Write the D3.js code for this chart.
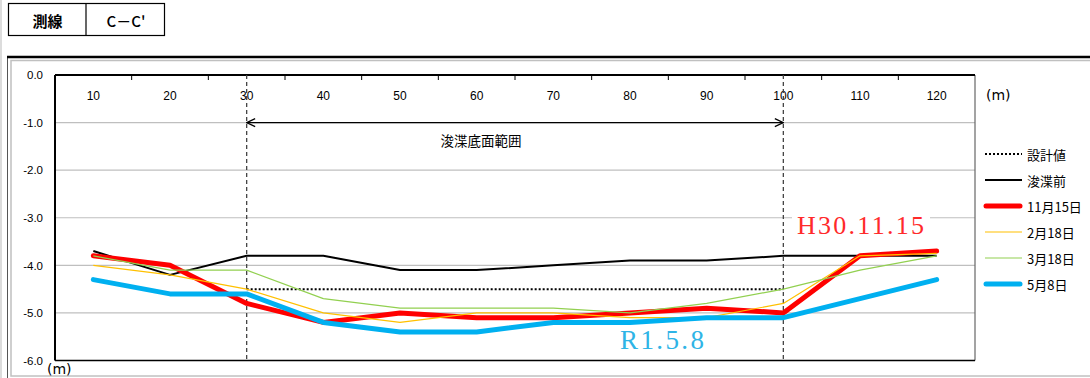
<!DOCTYPE html>
<html><head><meta charset="utf-8">
<script src="https://cdn.jsdelivr.net/npm/d3@7"></script>
<style>
body{margin:0;background:#fff;}
svg{display:block;font-family:"DejaVu Sans","Noto Sans CJK JP",sans-serif;}
</style></head>
<body>
<svg id="c" width="1090" height="378"></svg>
<script>
const categories = [10,20,30,40,50,60,70,80,90,100,110,120];
const yTicks = [0,-1,-2,-3,-4,-5,-6];
const designRange = [30,100];
const designValue = -4.5;
const before   = [-3.7,-4.2,-3.8,-3.8,-4.1,-4.1,-4.0,-3.9,-3.9,-3.8,-3.8,-3.8];
const nov15    = [-3.8,-4.0,-4.8,-5.2,-5.0,-5.1,-5.1,-5.0,-4.9,-5.0,-3.8,-3.7];
const feb18    = [-4.0,-4.2,-4.5,-5.0,-5.2,-5.0,-5.0,-5.1,-5.1,-4.8,-3.8,-3.75];
const mar18    = [-3.8,-4.1,-4.1,-4.7,-4.9,-4.9,-4.9,-5.0,-4.8,-4.5,-4.1,-3.8];
const may8     = [-4.3,-4.6,-4.6,-5.2,-5.4,-5.4,-5.2,-5.2,-5.1,-5.1,-4.7,-4.3];
const seriesNames = ["設計値","浚渫前","11月15日","2月18日","3月18日","5月8日"];

const svg = d3.select("#c");
const L=55, R=975, T=75, B=360.5;
const band = d3.scaleBand().domain(categories).range([L,R]).paddingInner(0).paddingOuter(0);
const x = d3.scalePoint().domain(categories).range([L,R]).padding(0.5);
const y = d3.scaleLinear().domain([-6,0]).range([B,T]);

// page frame
svg.append("line").attr("x1",1).attr("x2",1).attr("y1",0).attr("y2",378).attr("stroke","#d0d0d0").attr("stroke-width",1.5);
svg.append("rect").attr("x",11).attr("y",60.5).attr("width",1100).attr("height",315.5).attr("fill","none").attr("stroke","#c0c0c0").attr("stroke-width",1.5);
svg.append("line").attr("x1",7.5).attr("x2",7.5).attr("y1",57).attr("y2",378).attr("stroke","#555").attr("stroke-width",1);
svg.append("line").attr("x1",7).attr("x2",1090).attr("y1",57).attr("y2",57).attr("stroke","#000").attr("stroke-width",2.5);

// title table
const tb = svg.append("g");
tb.append("rect").attr("x",8.5).attr("y",3.5).attr("width",156).attr("height",32).attr("fill","none").attr("stroke","#000").attr("stroke-width",1.2);
tb.append("line").attr("x1",86).attr("x2",86).attr("y1",3.5).attr("y2",35.5).attr("stroke","#000").attr("stroke-width",1.2);
tb.append("text").attr("x",47.5).attr("y",20).attr("text-anchor","middle").attr("dominant-baseline","central")
  .style("font-family","'Noto Sans CJK JP'").style("font-size","15px").style("font-weight","700").text("測線");
tb.append("text").attr("x",126).attr("y",20).attr("text-anchor","middle").attr("dominant-baseline","central")
  .style("font-family","'Noto Sans CJK JP'").style("font-size","15px").style("font-weight","500").text("C－C'");

// gridlines
svg.append("g").selectAll("line").data(yTicks.filter(d=>d<0 && d>-6)).join("line")
  .attr("x1",L).attr("x2",R).attr("y1",d=>y(d)).attr("y2",d=>y(d)).attr("stroke","#bfbfbf").attr("stroke-width",1.2);

// y axis
const ya = svg.append("g").attr("transform",`translate(${L},0)`)
  .call(d3.axisLeft(y).tickValues(yTicks).tickSize(0).tickPadding(12).tickFormat(d=>d.toFixed(1)));
ya.select(".domain").remove();
ya.selectAll("text").style("font-size","11.5px").attr("fill","#000");

// x axis (top, labels inside)
const xa = svg.append("g").attr("transform",`translate(0,${T})`)
  .call(d3.axisBottom(band).tickSize(0).tickPadding(16));
xa.select(".domain").remove();
xa.selectAll("text").style("font-size","12px").attr("fill","#000");
svg.append("g").selectAll("line").data(categories.slice(1)).join("line")
  .attr("x1",d=>band(d)).attr("x2",d=>band(d)).attr("y1",T).attr("y2",T+5).attr("stroke","#000").attr("stroke-width",1);

// plot border
svg.append("line").attr("x1",R).attr("x2",R).attr("y1",T).attr("y2",B).attr("stroke","#666").attr("stroke-width",1.2);
svg.append("line").attr("x1",L).attr("x2",R).attr("y1",B).attr("y2",B).attr("stroke","#000").attr("stroke-width",1.5);
svg.append("line").attr("x1",L).attr("x2",L).attr("y1",T).attr("y2",B).attr("stroke","#000").attr("stroke-width",2);
svg.append("line").attr("x1",L).attr("x2",R).attr("y1",T).attr("y2",T).attr("stroke","#000").attr("stroke-width",2);

// unit labels
svg.append("text").attr("x",47).attr("y",374).style("font-size","14px").text("(m)");
svg.append("text").attr("x",986).attr("y",100).style("font-size","14px").text("(m)");

// vertical dashed lines
svg.append("g").selectAll("line").data(designRange).join("line")
  .attr("x1",d=>x(d)).attr("x2",d=>x(d)).attr("y1",T).attr("y2",B+1)
  .attr("stroke","#444").attr("stroke-width",1.3).attr("stroke-dasharray","4,3");

// dimension arrow
const defs = svg.append("defs");
defs.append("marker").attr("id","arr").attr("viewBox","0 0 10 10").attr("refX",9.5).attr("refY",5)
  .attr("markerWidth",10).attr("markerHeight",10).attr("markerUnits","userSpaceOnUse").attr("orient","auto-start-reverse")
  .append("path").attr("d","M1,1 L9.5,5 L1,9").attr("fill","none").attr("stroke","#000").attr("stroke-width",1.2);
svg.append("line").attr("x1",x(designRange[0])).attr("x2",x(designRange[1])).attr("y1",y(-1)).attr("y2",y(-1))
  .attr("stroke","#000").attr("stroke-width",1.3).attr("marker-start","url(#arr)").attr("marker-end","url(#arr)");
svg.append("text").attr("x",481).attr("y",140).attr("text-anchor","middle").attr("dominant-baseline","central")
  .style("font-family","'Noto Sans CJK JP'").style("font-size","13.5px").text("浚渫底面範囲");

// series
const line = d3.line().x(d=>x(d[0])).y(d=>y(d[1]));
const styles = [
  {name:seriesNames[0], color:"#000", w:2, dash:"2,2", cap:"butt"},
  {name:seriesNames[1], color:"#000", w:2, data:before, cap:"butt"},
  {name:seriesNames[2], color:"#ff0000", w:5, data:nov15, cap:"round"},
  {name:seriesNames[3], color:"#ffc000", w:1.2, data:feb18, cap:"butt"},
  {name:seriesNames[4], color:"#92d050", w:1.2, data:mar18, cap:"butt"},
  {name:seriesNames[5], color:"#00b0f0", w:5, data:may8, cap:"round"}
];
svg.append("path").datum(designRange.map(c=>[c,designValue]))
  .attr("d",line).attr("fill","none").attr("stroke","#000").attr("stroke-width",2).attr("stroke-dasharray","2,2");
styles.slice(1).forEach(s=>{
  svg.append("path").datum(categories.map((c,i)=>[c,s.data[i]]))
    .attr("d",line).attr("fill","none").attr("stroke",s.color).attr("stroke-width",s.w)
    .attr("stroke-linejoin","round").attr("stroke-linecap",s.cap);
});

// annotations
svg.append("rect").attr("x",792).attr("y",208).attr("width",138).attr("height",32).attr("fill","#fff");
svg.append("text").attr("x",797).attr("y",234).attr("textLength",127).attr("lengthAdjust","spacing")
  .style("font-family","'Liberation Serif','DejaVu Serif',serif").style("font-size","26px").attr("fill","#ff2a2a").text("H30.11.15");
svg.append("text").attr("x",620).attr("y",349).attr("textLength",84).attr("lengthAdjust","spacing")
  .style("font-family","'Liberation Serif','DejaVu Serif',serif").style("font-size","27px").attr("fill","#2fb4e6").text("R1.5.8");

// legend
const lg = svg.append("g");
styles.forEach((s,i)=>{
  const ly = 154 + i*26;
  lg.append("line").attr("x1",s.w>=5?986:985).attr("x2",s.w>=5?1020:1022).attr("y1",ly).attr("y2",ly)
    .attr("stroke",s.color).attr("stroke-width",s.w).attr("stroke-dasharray",s.dash||null).attr("stroke-linecap",s.cap);
  lg.append("text").attr("x",1027).attr("y",ly).attr("dominant-baseline","central")
    .style("font-family","'Noto Sans CJK JP'").style("font-size","13px").text(s.name);
});
</script>
</body></html>
